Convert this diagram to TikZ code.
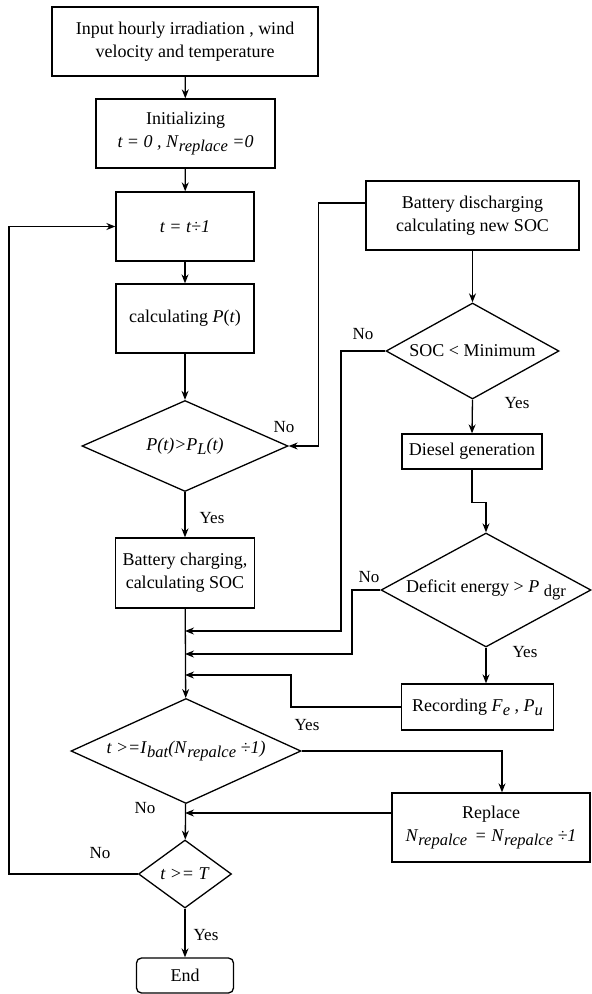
\documentclass[tikz,border=0pt]{standalone}
\usepackage{fontspec}
\setmainfont{Liberation Serif}
\usetikzlibrary{shapes.geometric,arrows.meta,calc}
\newcommand{\lowsub}[1]{\raisebox{-0.45ex}{\fontsize{16.5}{16}\selectfont #1}}
\begin{document}
\begin{tikzpicture}[x=1pt,y=-1pt,
  every node/.style={font=\fontsize{18}{23}\selectfont},
  boxnode/.style={draw, line width=1.3pt, align=center, inner sep=2pt},
  dia/.style={draw, diamond, line width=1.3pt, inner sep=0pt, aspect=1},
  lbl/.style={font=\fontsize{17}{20}\selectfont, inner sep=0pt},
  arr/.style={line width=1.3pt, -{Stealth[length=9pt,width=7pt]}},
  ln/.style={line width=1.3pt}]
\useasboundingbox (0,0) rectangle (592,994);
% main column
\node[boxnode, minimum width=266pt, minimum height=69pt] (in1) at (185,41.5) {Input hourly irradiation , wind\\velocity and temperature};
\node[boxnode, minimum width=179pt, minimum height=69pt] (init) at (185.5,133.5) {Initializing\\\textit{t = 0 , N}\lowsub{\textit{replace}} \textit{=0}};
\node[boxnode, minimum width=138pt, minimum height=69pt] (inc) at (185,226.5) {\textit{t = t÷1}};
\node[boxnode, minimum width=138pt, minimum height=69pt] (calc) at (185,318.5) {calculating \textit{P}(\textit{t})};
\node[dia, minimum width=206pt, minimum height=91pt] (d1) at (185,446) {\makebox[0pt]{\textit{P(t)>P}\lowsub{\textit{L}}\textit{(t)}}};
\node[boxnode, minimum width=139pt, minimum height=70pt] (chg) at (185,573) {Battery charging,\\calculating SOC};
\node[dia, minimum width=230pt, minimum height=105pt] (d3) at (186,751) {\makebox[0pt]{\textit{t >=I}\lowsub{\textit{bat}}\textit{(N}\lowsub{\textit{repalce}} \textit{÷1)}}};
\node[dia, minimum width=93pt, minimum height=68pt] (d4) at (185,874) {\makebox[0pt]{\textit{t >= T}}};
\node[boxnode, rounded corners=5pt, minimum width=97pt, minimum height=35pt] (endn) at (185,975.5) {End};
% right column
\node[boxnode, minimum width=213pt, minimum height=69pt] (dis) at (472.5,215.5) {Battery discharging\\calculating new SOC};
\node[dia, minimum width=173pt, minimum height=96pt] (soc) at (472.5,351) {\makebox[0pt]{SOC < Minimum}};
\node[boxnode, minimum width=140pt, minimum height=35pt] (dsl) at (472,451.5) {Diesel generation};
\node[dia, minimum width=210pt, minimum height=114pt] (def) at (486,590) {\makebox[0pt]{Deficit energy > \textit{P} \lowsub{dgr}}};
\node[boxnode, minimum width=152pt, minimum height=46pt] (rec) at (477.5,707) {Recording \textit{F}\lowsub{\textit{e}} , \textit{P}\lowsub{\textit{u}}};
\node[boxnode, minimum width=198pt, minimum height=69pt] (rep) at (491,827.5) {Replace\\\textit{N}\lowsub{\textit{repalce}} \,\textit{= N}\lowsub{\textit{repalce}} \textit{÷1}};
% merge points
\coordinate (m1) at (185,631);
\coordinate (m2) at (185,654);
\coordinate (m3) at (185,675);
\coordinate (m4) at (185,813);
\coordinate (lp) at (9,874);
% labels
\node[lbl] (l1) at (284,427) {No};
\node[lbl] (l2) at (212,518) {Yes};
\node[lbl] (l3) at (363,334) {No};
\node[lbl] (l4) at (517,403) {Yes};
\node[lbl] (l5) at (369,577) {No};
\node[lbl] (l6) at (525,652) {Yes};
\node[lbl] (l7) at (307,725) {Yes};
\node[lbl] (l8) at (145,808) {No};
\node[lbl] (l9) at (100,853) {No};
\node[lbl] (l10) at (206,935) {Yes};
% connectors
\draw[arr] (in1) -- (init);
\draw[arr] (init) -- (inc);
\draw[arr] (inc) -- (calc);
\draw[arr] (calc) -- (d1);
\draw[arr] (d1) -- (chg);
\draw[arr] (chg) -- (d3);
\draw[arr] (d3) -- (d4);
\draw[arr] (d4) -- (endn);
\draw[arr] ([yshift=12.5pt]dis.west) -| ($(d1.east)+(30,0)$) -- (d1.east);
\draw[arr] (dis.south) -- (soc.north);
\draw[arr] (soc.south) -- (dsl.north);
\draw[arr] (soc.west) -| ($(m1)+(156,0)$) -- (m1);
\draw[arr] (dsl.south) -- ($(dsl.south)+(0,33)$) -| (def.north);
\draw[arr] (def.west) -| ($(m2)+(167,0)$) -- (m2);
\draw[arr] (def.south) -- (def.south |- rec.north);
\draw[arr] (rec.west) -| ($(m3)+(106,0)$) -- (m3);
\draw[arr] (d3.east) -| ($(rep.north)+(11,0)$);
\draw[arr] ([yshift=14.5pt]rep.west) -- (m4);
\draw[arr] (d4.west) -- (lp) |- (inc.west);
\end{tikzpicture}
\end{document}
